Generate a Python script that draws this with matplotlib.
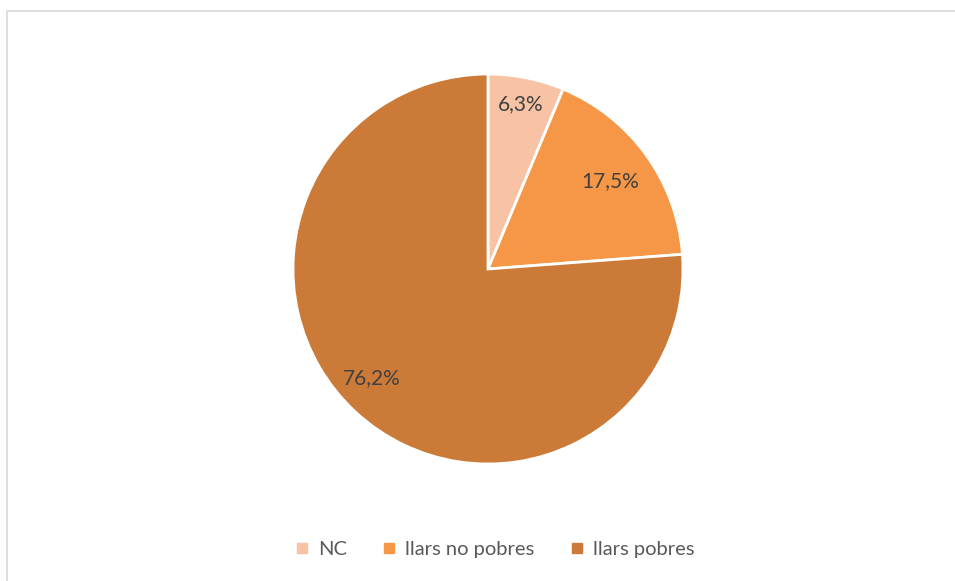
import numpy as np
import matplotlib.pyplot as plt
from matplotlib.patches import Rectangle
from matplotlib.lines import Line2D

# dades
categories = ['NC', 'llars no pobres', 'llars pobres']
valors = [6.3, 17.5, 76.2]
colors = ['#F8C3A5', '#F59746', '#CC7A37']

plt.rcParams['font.family'] = ['Lato', 'DejaVu Sans']

fig = plt.figure(figsize=(9.55, 5.81), dpi=100)
fig.patches.append(Rectangle((7/955, -0.1), 1.2, 1 - 11/581 + 0.1, transform=fig.transFigure,
                             fill=False, edgecolor='#D9D9D9', linewidth=1.2))

ax = fig.add_axes([293/955, 117/581, 390/955, 390/581])
wedges, texts, pcts = ax.pie(valors, colors=colors, startangle=90, counterclock=False,
                             autopct=lambda p: ('%.1f%%' % p).replace('.', ','),
                             wedgeprops=dict(edgecolor='white', linewidth=2))

# posicio de les etiquetes (com a Excel)
dist = [0.86, 0.77, 0.82]
desv = [0, 0, -4]
for w, t, d, a in zip(wedges, pcts, dist, desv):
    ang = np.deg2rad((w.theta1 + w.theta2) / 2 + a)
    t.set_position((d * np.cos(ang), d * np.sin(ang)))
    t.set_color('#404040')
    t.set_fontsize(15)
ax.set_xlim(-1, 1)
ax.set_ylim(-1, 1)
ax.set_aspect('equal')

handles = [Line2D([], [], marker='s', linestyle='', markersize=7, color=c) for c in colors]
fig.legend(handles, categories, loc='center', bbox_to_anchor=(493/955, 1 - 549/581),
           ncol=3, frameon=False, fontsize=14.5, labelcolor='#595959',
           handletextpad=0.3, columnspacing=1.6, handlelength=1)

plt.savefig('out.png')
